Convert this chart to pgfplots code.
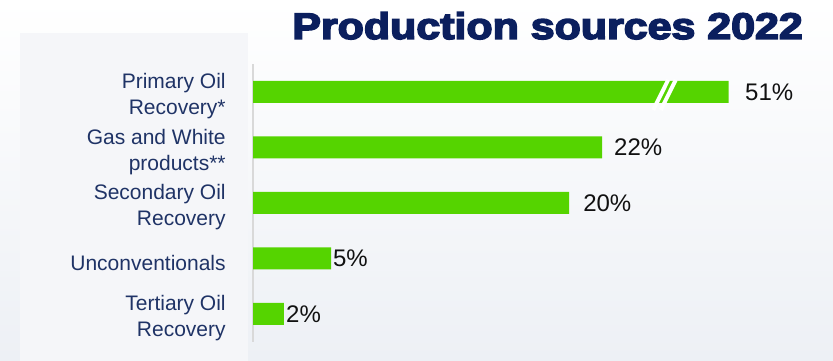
\documentclass[border=0pt]{standalone}
\usepackage{fontspec}
\setmainfont{Liberation Sans}
\newfontfamily\titlefont[FakeBold=4]{Liberation Sans Bold}
\usepackage{graphicx}
\usepackage{pgfplots}
\usepackage{pgfplotstable}
\pgfplotsset{compat=1.18}
\definecolor{navy}{HTML}{0B1F5E}
\definecolor{lblue}{HTML}{1F3366}
\definecolor{bargreen}{HTML}{55D400}
\definecolor{bgA}{HTML}{EDF0F5}
\definecolor{panel}{HTML}{F5F6F9}
\definecolor{pcttext}{HTML}{111111}

% pos: category position (4 = top), val: drawn bar length (51% bar is broken),
% lx: label position, pct: printed percentage
\pgfplotstableread{
pos val  lx    pct
4   30.1 31.14 51
3   22.1 22.85 22
2   20.0 20.89 20
1   4.95 5.06  5
0   1.95 2.09  2
}\data

\begin{document}
\begin{tikzpicture}
\path[use as bounding box] (0,0) rectangle (833pt,361pt);
\shade[top color=white, bottom color=bgA] (0,0) rectangle (833pt,361pt);
\fill[panel] (20pt,0) rectangle (248pt,328pt);
\node[anchor=base east, text=navy, inner sep=0pt] at (803pt,322pt)
  {\titlefont\fontsize{37}{40}\selectfont\scalebox{1.16}[1]{Production sources 2022}};
\begin{axis}[
  at={(253pt,19.25pt)}, anchor=south west,
  scale only axis, width=568.8pt, height=277.5pt,
  xmin=0, xmax=36, ymin=-0.5, ymax=4.5,
  axis x line=none, axis y line=left,
  y axis line style={-, draw=black!15, line width=1.5pt},
  xtick=\empty,
  ytick={0,1,2,3,4},
  yticklabels={{Tertiary Oil\\[1pt]Recovery},{Unconventionals},{Secondary Oil\\[1pt]Recovery},{Gas and White\\[1pt]products**},{Primary Oil\\[1pt]Recovery*}},
  ytick style={draw=none},
  yticklabel style={align=right, font=\fontsize{21}{25}\selectfont, text=lblue, inner sep=0pt, xshift=-25pt, yshift=-4.5pt},
  clip=false,
]
\addplot[xbar, bar width=22pt, fill=bargreen, draw=none] table[x=val, y=pos] {\data};
\draw[white, line width=4pt] (axis cs:25.33,3.676) -- (axis cs:26.28,4.22);
\draw[white, line width=4pt] (axis cs:25.81,3.676) -- (axis cs:26.76,4.22);
\addplot[draw=none, mark=none, point meta=explicit,
  nodes near coords={\pgfmathprintnumber[assume math mode=true]{\pgfplotspointmeta}\%},
  nodes near coords style={anchor=west, inner sep=0pt, text=pcttext, font=\fontsize{24}{28}\selectfont}]
  table[x=lx, y=pos, meta=pct] {\data};
\end{axis}
\end{tikzpicture}
\end{document}
